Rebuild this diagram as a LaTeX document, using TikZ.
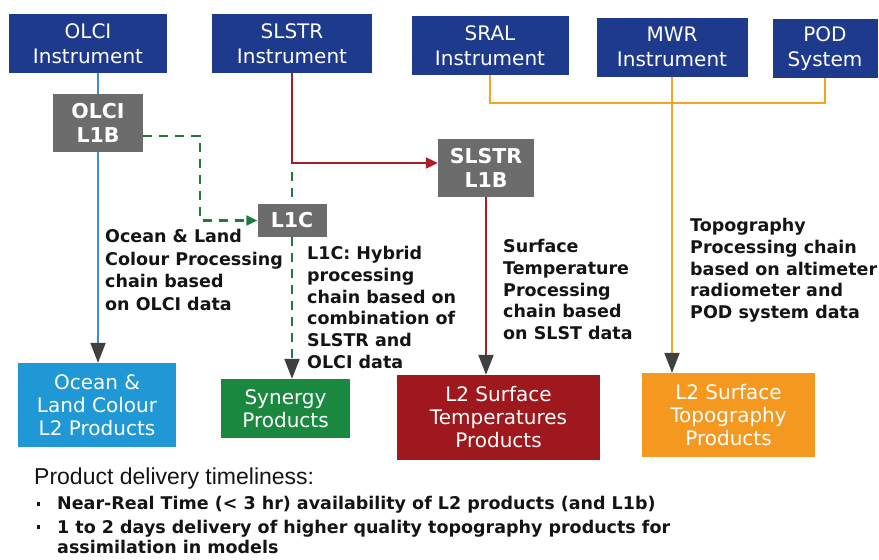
\documentclass[tikz,border=0pt]{standalone}
\usepackage{fontspec}
\setmainfont{DejaVu Sans}
\newfontfamily\titlefont{Liberation Sans}
\usepackage{xcolor}
\usetikzlibrary{arrows.meta, positioning}

\definecolor{instblue}{RGB}{30,58,140}
\definecolor{lvlgray}{RGB}{108,108,108}
\definecolor{oceanblue}{RGB}{32,152,214}
\definecolor{synegreen}{RGB}{26,136,62}
\definecolor{tempred}{RGB}{158,24,30}
\definecolor{topoorange}{RGB}{244,152,32}
\definecolor{olciline}{RGB}{62,140,210}
\definecolor{greenline}{RGB}{30,122,62}
\definecolor{redline}{RGB}{172,30,36}
\definecolor{orangeline}{RGB}{246,162,34}
\definecolor{tipgray}{RGB}{64,64,64}
\definecolor{notegray}{RGB}{20,20,20}

\newcommand{\bulletmark}{\makebox[22pt][l]{\hspace{2pt}\raisebox{4pt}{\rule{3pt}{3.6pt}}}}

\begin{document}
\begin{tikzpicture}[x=1pt, y=-1pt,
    box/.style={rectangle, inner sep=0pt, align=center, text=white, font=\fontsize{20}{23}\selectfont},
    instr/.style={box, fill=instblue, minimum height=59pt, font=\fontsize{20}{24.5}\selectfont},
    level1/.style={box, fill=lvlgray, font=\bfseries\fontsize{20.5}{24}\selectfont},
    product/.style={box, minimum height=84pt},
    note/.style={anchor=north west, inner sep=0pt, align=left, text=notegray, font=\bfseries\fontsize{17.5}{21.8}\selectfont},
    bigtip/.style={-{Triangle[length=20pt, width=15pt, color=tipgray]}},
    flow/.style={line width=2.2pt},
    dashflow/.style={flow, color=greenline, dash pattern=on 9pt off 7pt}]
    \useasboundingbox (0,0) rectangle (879,560);

    % instruments
    \node[instr, minimum width=158pt] (olci) at (88,43.5) {OLCI\\Instrument};
    \node[instr, minimum width=160pt] (slstr) at (292,43.5) {SLSTR\\Instrument};
    \node[instr, minimum width=157pt] (sral) at (490,45.5) {SRAL\\Instrument};
    \node[instr, minimum width=151pt] (mwr) at (672,47) {MWR\\Instrument};
    \node[instr, minimum width=105pt] (pod) at (825,48.5) {POD\\System};

    % level 1 products
    \node[level1, minimum width=90pt, minimum height=58pt] (olcil1b) at (98,123) {OLCI\\L1B};
    \node[level1, minimum width=96pt, minimum height=58pt] (slstrl1b) at (486,168) {SLSTR\\L1B};
    \node[level1, minimum width=69pt, minimum height=33pt] (l1c) at (292,220.5) {L1C};

    % level 2 products
    \node[product, fill=oceanblue, minimum width=158pt] (ocean) at (97,405) {Ocean \&\\Land Colour\\L2 Products};
    \node[box, fill=synegreen, minimum width=129pt, minimum height=59pt] (synergy) at (285.5,408.5) {Synergy\\Products};
    \node[product, fill=tempred, minimum width=203pt, minimum height=85pt] (surftemp) at (498.5,417.5) {L2 Surface\\Temperatures\\Products};
    \node[product, fill=topoorange, minimum width=173pt] (topo) at (728.5,415) {L2 Surface\\Topography\\Products};

    % OLCI chain
    \draw[flow, olciline] (olci.south -| olcil1b) -- (olcil1b.north);
    \draw[flow, olciline, bigtip] (olcil1b.south) -- (olcil1b.south |- ocean.north);

    % synergy chain
    \coordinate (gbend) at (200,136);
    \draw[dashflow, -{Triangle[length=11pt, width=10pt]}] (olcil1b.east |- gbend) -- (gbend) |- (l1c.west);
    \coordinate (rbend) at (292,163);
    \draw[dashflow] ([yshift=-9pt]rbend) -- (l1c.north);
    \draw[dashflow, bigtip] (l1c.south) -- (l1c.south |- synergy.north);

    % SLSTR chain
    \draw[flow, redline, -{Triangle[length=12pt, width=11pt]}] (slstr.south) -- (rbend) -- (rbend -| slstrl1b.west);
    \draw[flow, redline, bigtip] (slstrl1b.south) -- (slstrl1b.south |- surftemp.north);

    % topography chain
    \coordinate (ojoint) at (672,103);
    \draw[flow, orangeline] (sral.south) |- (ojoint) -| (pod.south);
    \draw[flow, orangeline] (mwr.south) -- (ojoint);
    \draw[flow, orangeline, bigtip] (ojoint) -- (ojoint |- topo.north);

    % chain notes
    \node[note, font=\bfseries\fontsize{17.5}{22.6}\selectfont] (oceannote) at (105,229) {Ocean \& Land\\Colour Processing\\chain based\\on OLCI data};
    \node[note] (synnote) at (307,246) {L1C: Hybrid\\processing\\chain based on\\combination of\\SLSTR and\\OLCI data};
    \node[note] (tempnote) at (503,239) {Surface\\Temperature\\Processing\\chain based\\on SLST data};
    \node[note] (toponote) at (690,218) {Topography\\Processing chain\\based on altimeter\\radiometer and\\POD system data};

    % timeliness
    \node[anchor=north west, inner sep=0pt, text=notegray, font=\titlefont\fontsize{23}{26}\selectfont] (timely) at (34,468) {Product delivery timeliness:};
    \node[note, font=\bfseries\fontsize{17.5}{20.5}\selectfont] (bullets) at (35,496)
        {\bulletmark Near-Real Time (< 3 hr) availability of L2 products (and L1b)\\[3pt]
         \bulletmark 1 to 2 days delivery of higher quality topography products for\\
         \hspace*{22pt}assimilation in models};
\end{tikzpicture}
\end{document}
